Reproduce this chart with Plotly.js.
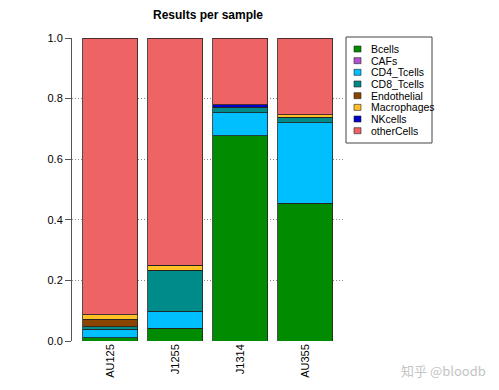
<!DOCTYPE html>
<html><head><meta charset="utf-8">
<script src="https://cdn.plot.ly/plotly-3.0.1.min.js"></script>
<style>html,body{margin:0;padding:0;background:#fff}#chart{width:499px;height:390px}</style>
</head><body><div id="chart"></div>
<script>
const samples = ["AU125", "J1255", "J1314", "AU355"];
const cellTypes = ["Bcells", "CAFs", "CD4_Tcells", "CD8_Tcells", "Endothelial", "Macrophages", "NKcells", "otherCells"];
const colors = ["#008B00", "#B452CD", "#00BFFF", "#008B8B", "#8B4500", "#FFC125", "#0000CD", "#EE6363"];
const Bcells      = [0.010, 0.042, 0.677, 0.454];
const CAFs        = [0.000, 0.000, 0.000, 0.000];
const CD4_Tcells  = [0.028, 0.057, 0.077, 0.266];
const CD8_Tcells  = [0.009, 0.135, 0.018, 0.017];
const Endothelial = [0.025, 0.000, 0.000, 0.002];
const Macrophages = [0.015, 0.016, 0.000, 0.008];
const NKcells     = [0.000, 0.000, 0.007, 0.000];
const otherCells  = [0.913, 0.750, 0.221, 0.253];
const series = [Bcells, CAFs, CD4_Tcells, CD8_Tcells, Endothelial, Macrophages, NKcells, otherCells];
const yTicks = [0, 0.2, 0.4, 0.6, 0.8, 1.0];

const xPos = samples.map((s, i) => i);
const traces = cellTypes.map((name, k) => ({
  type: "bar", name: name, x: xPos, y: series[k],
  width: 0.846,
  marker: {color: colors[k], line: {color: "#222", width: 0.8}},
  showlegend: false, hoverinfo: "name+y"
}));

// custom compact legend (R-style)
const shapes = [{type: "rect", xref: "paper", yref: "paper",
  x0: (346-72)/273, x1: (432-72)/273, y0: (341-143)/303, y1: (341-37)/303,
  line: {color: "#444", width: 1}, fillcolor: "rgba(0,0,0,0)"}];
const annotations = [];
cellTypes.forEach((name, k) => {
  const yc = 49 + k * 11.67;
  shapes.push({type: "rect", xref: "paper", yref: "paper",
    x0: (354-72)/273, x1: (361-72)/273, y0: (341-(yc+3))/303, y1: (341-(yc-3))/303,
    line: {color: "#222", width: 0.6}, fillcolor: colors[k]});
  annotations.push({xref: "paper", yref: "paper", x: (369-72)/273, y: (341-yc)/303,
    xanchor: "left", yanchor: "middle", showarrow: false, text: name,
    font: {family: "Liberation Sans, Arial, sans-serif", size: 10.5, color: "#000"}});
});
annotations.push({xref: "paper", yref: "paper", x: (488-72)/273, y: (341-370)/303,
  xanchor: "right", yanchor: "middle", showarrow: false, text: "知乎 @bloodb",
  font: {family: "Noto Sans CJK SC, sans-serif", size: 13, color: "#c4c4c4"}});

const layout = {
  width: 499, height: 390,
  margin: {l: 72, r: 154, t: 38, b: 49},
  paper_bgcolor: "#fff", plot_bgcolor: "#fff",
  barmode: "stack",
  title: {text: "<b>Results per sample</b>", x: 208/499, xanchor: "center", y: 1 - 15/390, yanchor: "middle",
    font: {family: "Liberation Sans, Arial, sans-serif", size: 12, color: "#000"}},
  xaxis: {range: [-0.585, 3.615], tickmode: "array", tickvals: xPos, ticktext: samples,
    tickangle: -90, showline: false, showgrid: false, zeroline: false, ticks: "",
    tickfont: {family: "Liberation Sans, Arial, sans-serif", size: 11, color: "#000"}},
  yaxis: {range: [0, 1], tickmode: "array", tickvals: yTicks, tickformat: ".1f",
    showline: true, linecolor: "#555", linewidth: 1, ticks: "outside", ticklen: 6, tickcolor: "#555",
    showgrid: true, gridcolor: "#8a8a8a", griddash: "1px,2px", gridwidth: 1, zeroline: false,
    tickfont: {family: "Liberation Sans, Arial, sans-serif", size: 11, color: "#000"}},
  shapes: shapes, annotations: annotations,
  showlegend: false
};
Plotly.newPlot("chart", traces, layout, {displayModeBar: false, staticPlot: true});
</script></body></html>
